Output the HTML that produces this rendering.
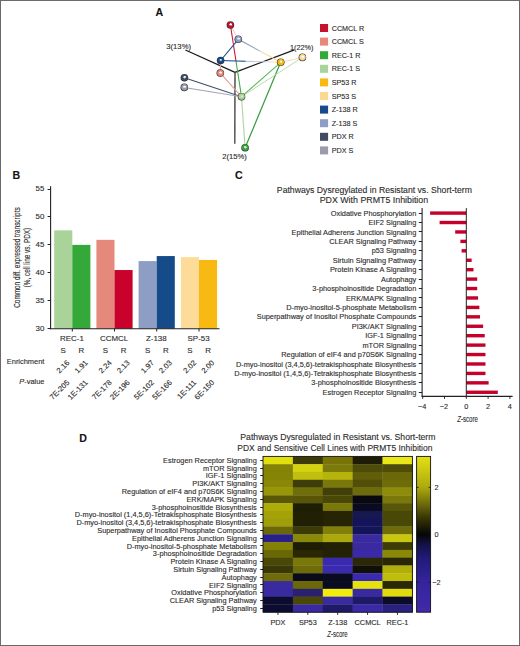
<!DOCTYPE html>
<html><head><meta charset="utf-8"><style>
html,body{margin:0;padding:0;background:#fff;}
svg{display:block;font-family:"Liberation Sans", sans-serif;}
text{stroke:#2b2b2b;stroke-width:0.12px;paint-order:stroke;}
</style></head><body>
<svg width="520" height="646" viewBox="0 0 520 646">
<rect x="0" y="0" width="520" height="646" fill="#fff"/>
<text x="155.60" y="15.80" font-size="10.6" text-anchor="start" font-weight="bold" fill="#111">A</text>
<defs><linearGradient id="lg0" gradientUnits="userSpaceOnUse" x1="230.4" y1="25.0" x2="238.3" y2="39.3"><stop offset="0" stop-color="#e9a3ad"/><stop offset="1" stop-color="#e9b3bd"/></linearGradient><linearGradient id="lg1" gradientUnits="userSpaceOnUse" x1="230.4" y1="25.0" x2="241.5" y2="96.7"><stop offset="0" stop-color="#c4122f"/><stop offset="0.48" stop-color="#c4122f"/><stop offset="0.52" stop-color="#3fa845"/><stop offset="1" stop-color="#3fa845"/></linearGradient><linearGradient id="lg2" gradientUnits="userSpaceOnUse" x1="238.3" y1="39.3" x2="220.6" y2="60.5"><stop offset="0" stop-color="#2a5a98"/><stop offset="1" stop-color="#1a4a8a"/></linearGradient><linearGradient id="lg3" gradientUnits="userSpaceOnUse" x1="238.3" y1="39.3" x2="280.7" y2="62.3"><stop offset="0" stop-color="#7d8cb0"/><stop offset="0.45" stop-color="#9eaacb"/><stop offset="0.55" stop-color="#f8dcae"/><stop offset="1" stop-color="#f8d898"/></linearGradient><linearGradient id="lg4" gradientUnits="userSpaceOnUse" x1="220.6" y1="60.5" x2="280.7" y2="62.3"><stop offset="0" stop-color="#174a8a"/><stop offset="0.4" stop-color="#2a5a98"/><stop offset="0.43" stop-color="#b8c4dc"/><stop offset="0.8" stop-color="#d8dce6"/><stop offset="0.86" stop-color="#fbe0a8"/><stop offset="1" stop-color="#fbd99a"/></linearGradient><linearGradient id="lg5" gradientUnits="userSpaceOnUse" x1="280.7" y1="62.3" x2="302.4" y2="57.4"><stop offset="0" stop-color="#fbdcaa"/><stop offset="1" stop-color="#fbe0b0"/></linearGradient><linearGradient id="lg6" gradientUnits="userSpaceOnUse" x1="280.7" y1="62.3" x2="245.1" y2="147.7"><stop offset="0" stop-color="#3c9c3e"/><stop offset="1" stop-color="#3c9c3e"/></linearGradient><linearGradient id="lg7" gradientUnits="userSpaceOnUse" x1="280.7" y1="62.3" x2="241.5" y2="96.7"><stop offset="0" stop-color="#5cb860"/><stop offset="1" stop-color="#5cb860"/></linearGradient><linearGradient id="lg8" gradientUnits="userSpaceOnUse" x1="302.4" y1="57.4" x2="241.5" y2="96.7"><stop offset="0" stop-color="#b4dba6"/><stop offset="1" stop-color="#b4dba6"/></linearGradient><linearGradient id="lg9" gradientUnits="userSpaceOnUse" x1="220.3" y1="73.1" x2="241.5" y2="96.7"><stop offset="0" stop-color="#e6988a"/><stop offset="1" stop-color="#e6a090"/></linearGradient><linearGradient id="lg10" gradientUnits="userSpaceOnUse" x1="184.4" y1="77.7" x2="241.5" y2="96.7"><stop offset="0" stop-color="#3e4b63"/><stop offset="1" stop-color="#4a566e"/></linearGradient><linearGradient id="lg11" gradientUnits="userSpaceOnUse" x1="184.3" y1="87.4" x2="241.5" y2="96.7"><stop offset="0" stop-color="#9a9cad"/><stop offset="1" stop-color="#aab0bc"/></linearGradient><linearGradient id="lg12" gradientUnits="userSpaceOnUse" x1="241.5" y1="96.7" x2="245.1" y2="147.7"><stop offset="0" stop-color="#b8d6ac"/><stop offset="1" stop-color="#b0d0a4"/></linearGradient><linearGradient id="lg13" gradientUnits="userSpaceOnUse" x1="220.3" y1="73.1" x2="220.6" y2="60.5"><stop offset="0" stop-color="#e8a090"/><stop offset="1" stop-color="#e8a090"/></linearGradient><radialGradient id="spCCMCLR" cx="0.5" cy="0.5" r="0.5" fx="0.55" fy="0.4"><stop offset="0" stop-color="#fff" stop-opacity="0.95"/><stop offset="0.2" stop-color="#fff" stop-opacity="0.45"/><stop offset="0.4" stop-color="#c4122f"/><stop offset="0.72" stop-color="#c4122f"/><stop offset="1" stop-color="#2a2a2a"/></radialGradient><radialGradient id="spCCMCLS" cx="0.5" cy="0.5" r="0.5" fx="0.55" fy="0.4"><stop offset="0" stop-color="#fff" stop-opacity="0.95"/><stop offset="0.2" stop-color="#fff" stop-opacity="0.45"/><stop offset="0.4" stop-color="#e8887a"/><stop offset="0.72" stop-color="#e8887a"/><stop offset="1" stop-color="#2a2a2a"/></radialGradient><radialGradient id="spREC1R" cx="0.5" cy="0.5" r="0.5" fx="0.55" fy="0.4"><stop offset="0" stop-color="#fff" stop-opacity="0.95"/><stop offset="0.2" stop-color="#fff" stop-opacity="0.45"/><stop offset="0.4" stop-color="#34a839"/><stop offset="0.72" stop-color="#34a839"/><stop offset="1" stop-color="#2a2a2a"/></radialGradient><radialGradient id="spREC1S" cx="0.5" cy="0.5" r="0.5" fx="0.55" fy="0.4"><stop offset="0" stop-color="#fff" stop-opacity="0.95"/><stop offset="0.2" stop-color="#fff" stop-opacity="0.45"/><stop offset="0.4" stop-color="#a9d398"/><stop offset="0.72" stop-color="#a9d398"/><stop offset="1" stop-color="#2a2a2a"/></radialGradient><radialGradient id="spSP53R" cx="0.5" cy="0.5" r="0.5" fx="0.55" fy="0.4"><stop offset="0" stop-color="#fff" stop-opacity="0.95"/><stop offset="0.2" stop-color="#fff" stop-opacity="0.45"/><stop offset="0.4" stop-color="#f7b912"/><stop offset="0.72" stop-color="#f7b912"/><stop offset="1" stop-color="#2a2a2a"/></radialGradient><radialGradient id="spSP53S" cx="0.5" cy="0.5" r="0.5" fx="0.55" fy="0.4"><stop offset="0" stop-color="#fff" stop-opacity="0.95"/><stop offset="0.2" stop-color="#fff" stop-opacity="0.45"/><stop offset="0.4" stop-color="#fcd993"/><stop offset="0.72" stop-color="#fcd993"/><stop offset="1" stop-color="#2a2a2a"/></radialGradient><radialGradient id="spZ138R" cx="0.5" cy="0.5" r="0.5" fx="0.55" fy="0.4"><stop offset="0" stop-color="#fff" stop-opacity="0.95"/><stop offset="0.2" stop-color="#fff" stop-opacity="0.45"/><stop offset="0.4" stop-color="#174a8a"/><stop offset="0.72" stop-color="#174a8a"/><stop offset="1" stop-color="#2a2a2a"/></radialGradient><radialGradient id="spZ138S" cx="0.5" cy="0.5" r="0.5" fx="0.55" fy="0.4"><stop offset="0" stop-color="#fff" stop-opacity="0.95"/><stop offset="0.2" stop-color="#fff" stop-opacity="0.45"/><stop offset="0.4" stop-color="#8d9dc8"/><stop offset="0.72" stop-color="#8d9dc8"/><stop offset="1" stop-color="#2a2a2a"/></radialGradient><radialGradient id="spPDXR" cx="0.5" cy="0.5" r="0.5" fx="0.55" fy="0.4"><stop offset="0" stop-color="#fff" stop-opacity="0.95"/><stop offset="0.2" stop-color="#fff" stop-opacity="0.45"/><stop offset="0.4" stop-color="#3e4b63"/><stop offset="0.72" stop-color="#3e4b63"/><stop offset="1" stop-color="#2a2a2a"/></radialGradient><radialGradient id="spPDXS" cx="0.5" cy="0.5" r="0.5" fx="0.55" fy="0.4"><stop offset="0" stop-color="#fff" stop-opacity="0.95"/><stop offset="0.2" stop-color="#fff" stop-opacity="0.45"/><stop offset="0.4" stop-color="#9a9cad"/><stop offset="0.72" stop-color="#9a9cad"/><stop offset="1" stop-color="#2a2a2a"/></radialGradient></defs>
<line x1="185.4" y1="50" x2="235" y2="72.3" stroke="#1a1a1a" stroke-width="1.3"/>
<line x1="235" y1="72.3" x2="294.4" y2="49.8" stroke="#1a1a1a" stroke-width="1.3"/>
<line x1="235" y1="72.3" x2="234.8" y2="143.8" stroke="#484848" stroke-width="1.4"/>
<line x1="230.4" y1="25.0" x2="238.3" y2="39.3" stroke="url(#lg0)" stroke-width="0.75"/>
<line x1="230.4" y1="25.0" x2="241.5" y2="96.7" stroke="url(#lg1)" stroke-width="1.05"/>
<line x1="238.3" y1="39.3" x2="220.6" y2="60.5" stroke="url(#lg2)" stroke-width="1.15"/>
<line x1="238.3" y1="39.3" x2="280.7" y2="62.3" stroke="url(#lg3)" stroke-width="1.15"/>
<line x1="220.6" y1="60.5" x2="280.7" y2="62.3" stroke="url(#lg4)" stroke-width="1.15"/>
<line x1="280.7" y1="62.3" x2="302.4" y2="57.4" stroke="url(#lg5)" stroke-width="1.05"/>
<line x1="280.7" y1="62.3" x2="245.1" y2="147.7" stroke="url(#lg6)" stroke-width="1.25"/>
<line x1="280.7" y1="62.3" x2="241.5" y2="96.7" stroke="url(#lg7)" stroke-width="1.05"/>
<line x1="302.4" y1="57.4" x2="241.5" y2="96.7" stroke="url(#lg8)" stroke-width="0.95"/>
<line x1="220.3" y1="73.1" x2="241.5" y2="96.7" stroke="url(#lg9)" stroke-width="1.05"/>
<line x1="184.4" y1="77.7" x2="241.5" y2="96.7" stroke="url(#lg10)" stroke-width="1.15"/>
<line x1="184.3" y1="87.4" x2="241.5" y2="96.7" stroke="url(#lg11)" stroke-width="1.05"/>
<line x1="241.5" y1="96.7" x2="245.1" y2="147.7" stroke="url(#lg12)" stroke-width="1.15"/>
<line x1="220.3" y1="73.1" x2="220.6" y2="60.5" stroke="url(#lg13)" stroke-width="1.05"/>
<circle cx="230.4" cy="25.0" r="3.8" fill="url(#spCCMCLR)"/>
<circle cx="238.3" cy="39.3" r="3.8" fill="url(#spZ138S)"/>
<circle cx="220.6" cy="60.5" r="3.8" fill="url(#spZ138R)"/>
<circle cx="220.3" cy="73.1" r="3.8" fill="url(#spCCMCLS)"/>
<circle cx="184.4" cy="77.7" r="3.8" fill="url(#spPDXR)"/>
<circle cx="184.3" cy="87.4" r="3.8" fill="url(#spPDXS)"/>
<circle cx="241.5" cy="96.7" r="3.8" fill="url(#spREC1S)"/>
<circle cx="245.1" cy="147.7" r="3.8" fill="url(#spREC1R)"/>
<circle cx="280.7" cy="62.3" r="3.8" fill="url(#spSP53R)"/>
<circle cx="302.4" cy="57.4" r="3.8" fill="url(#spSP53S)"/>
<text x="166.30" y="49.00" font-size="7.5" text-anchor="start" fill="#2b2b2b" textLength="24.70" lengthAdjust="spacingAndGlyphs">3(13%)</text>
<text x="290.00" y="50.00" font-size="7.5" text-anchor="start" fill="#2b2b2b" textLength="23.50" lengthAdjust="spacingAndGlyphs">1(22%)</text>
<text x="222.30" y="158.50" font-size="7.5" text-anchor="start" fill="#2b2b2b" textLength="24.60" lengthAdjust="spacingAndGlyphs">2(15%)</text>
<rect x="320" y="24.00" width="8.1" height="8" fill="#c4122f"/>
<text x="331.70" y="30.60" font-size="7.2" text-anchor="start" fill="#2b2b2b">CCMCL R</text>
<rect x="320" y="37.60" width="8.1" height="8" fill="#e8887a"/>
<text x="331.70" y="44.20" font-size="7.2" text-anchor="start" fill="#2b2b2b">CCMCL S</text>
<rect x="320" y="51.20" width="8.1" height="8" fill="#34a839"/>
<text x="331.70" y="57.80" font-size="7.2" text-anchor="start" fill="#2b2b2b">REC-1 R</text>
<rect x="320" y="64.80" width="8.1" height="8" fill="#a9d398"/>
<text x="331.70" y="71.40" font-size="7.2" text-anchor="start" fill="#2b2b2b">REC-1 S</text>
<rect x="320" y="78.40" width="8.1" height="8" fill="#f7b912"/>
<text x="331.70" y="85.00" font-size="7.2" text-anchor="start" fill="#2b2b2b">SP53 R</text>
<rect x="320" y="92.00" width="8.1" height="8" fill="#fcd993"/>
<text x="331.70" y="98.60" font-size="7.2" text-anchor="start" fill="#2b2b2b">SP53 S</text>
<rect x="320" y="105.60" width="8.1" height="8" fill="#174a8a"/>
<text x="331.70" y="112.20" font-size="7.2" text-anchor="start" fill="#2b2b2b">Z-138 R</text>
<rect x="320" y="119.20" width="8.1" height="8" fill="#8d9dc8"/>
<text x="331.70" y="125.80" font-size="7.2" text-anchor="start" fill="#2b2b2b">Z-138 S</text>
<rect x="320" y="132.80" width="8.1" height="8" fill="#3e4b63"/>
<text x="331.70" y="139.40" font-size="7.2" text-anchor="start" fill="#2b2b2b">PDX R</text>
<rect x="320" y="146.40" width="8.1" height="8" fill="#9a9cad"/>
<text x="331.70" y="153.00" font-size="7.2" text-anchor="start" fill="#2b2b2b">PDX S</text>
<text x="12.60" y="178.50" font-size="10.6" text-anchor="start" font-weight="bold" fill="#111">B</text>
<rect x="54.2" y="230.35" width="18.1" height="98.35" fill="#a9d398"/>
<rect x="72.3" y="244.88" width="18.1" height="83.82" fill="#34a839"/>
<rect x="96.4" y="239.85" width="18.1" height="88.85" fill="#e4897c"/>
<rect x="114.5" y="270.03" width="18.1" height="58.67" fill="#c8022b"/>
<rect x="138.6" y="261.09" width="18.1" height="67.61" fill="#8d9dc4"/>
<rect x="156.7" y="256.06" width="18.1" height="72.64" fill="#164b8a"/>
<rect x="180.9" y="257.17" width="18.1" height="71.53" fill="#fddb98"/>
<rect x="199.0" y="259.97" width="18.1" height="68.73" fill="#f8ba12"/>
<line x1="50.6" y1="186.3" x2="50.6" y2="329.2" stroke="#222" stroke-width="1.1"/>
<line x1="50.1" y1="328.7" x2="219.5" y2="328.7" stroke="#222" stroke-width="1.1"/>
<line x1="47.6" y1="328.50" x2="50.6" y2="328.50" stroke="#222" stroke-width="1"/>
<text x="44.40" y="331.00" font-size="7.9" text-anchor="end" fill="#2b2b2b">30</text>
<line x1="47.6" y1="300.50" x2="50.6" y2="300.50" stroke="#222" stroke-width="1"/>
<text x="44.40" y="303.06" font-size="7.9" text-anchor="end" fill="#2b2b2b">35</text>
<line x1="47.6" y1="272.50" x2="50.6" y2="272.50" stroke="#222" stroke-width="1"/>
<text x="44.40" y="275.12" font-size="7.9" text-anchor="end" fill="#2b2b2b">40</text>
<line x1="47.6" y1="244.50" x2="50.6" y2="244.50" stroke="#222" stroke-width="1"/>
<text x="44.40" y="247.18" font-size="7.9" text-anchor="end" fill="#2b2b2b">45</text>
<line x1="47.6" y1="216.50" x2="50.6" y2="216.50" stroke="#222" stroke-width="1"/>
<text x="44.40" y="219.24" font-size="7.9" text-anchor="end" fill="#2b2b2b">50</text>
<line x1="47.6" y1="189.50" x2="50.6" y2="189.50" stroke="#222" stroke-width="1"/>
<text x="44.40" y="191.30" font-size="7.9" text-anchor="end" fill="#2b2b2b">55</text>
<line x1="72.30" y1="328.7" x2="72.30" y2="331.5" stroke="#222" stroke-width="1"/>
<text x="71.90" y="341.40" font-size="7.95" text-anchor="middle" fill="#2b2b2b">REC-1</text>
<text x="63.25" y="352.70" font-size="7.9" text-anchor="middle" fill="#2b2b2b">S</text>
<text x="81.35" y="352.70" font-size="7.9" text-anchor="middle" fill="#2b2b2b">R</text>
<line x1="114.50" y1="328.7" x2="114.50" y2="331.5" stroke="#222" stroke-width="1"/>
<text x="114.10" y="341.40" font-size="7.95" text-anchor="middle" fill="#2b2b2b">CCMCL</text>
<text x="105.45" y="352.70" font-size="7.9" text-anchor="middle" fill="#2b2b2b">S</text>
<text x="123.55" y="352.70" font-size="7.9" text-anchor="middle" fill="#2b2b2b">R</text>
<line x1="156.70" y1="328.7" x2="156.70" y2="331.5" stroke="#222" stroke-width="1"/>
<text x="156.30" y="341.40" font-size="7.95" text-anchor="middle" fill="#2b2b2b">Z-138</text>
<text x="147.65" y="352.70" font-size="7.9" text-anchor="middle" fill="#2b2b2b">S</text>
<text x="165.75" y="352.70" font-size="7.9" text-anchor="middle" fill="#2b2b2b">R</text>
<line x1="199.00" y1="328.7" x2="199.00" y2="331.5" stroke="#222" stroke-width="1"/>
<text x="198.60" y="341.40" font-size="7.95" text-anchor="middle" fill="#2b2b2b">SP-53</text>
<text x="189.95" y="352.70" font-size="7.9" text-anchor="middle" fill="#2b2b2b">S</text>
<text x="208.05" y="352.70" font-size="7.9" text-anchor="middle" fill="#2b2b2b">R</text>
<text x="70.05" y="363.20" font-size="7.6" text-anchor="end" fill="#2b2b2b" transform="rotate(-45 70.05 363.2)">2.16</text>
<text x="70.05" y="383.00" font-size="7.6" text-anchor="end" fill="#2b2b2b" transform="rotate(-45 70.05 383.0)">7E-205</text>
<text x="88.15" y="363.20" font-size="7.6" text-anchor="end" fill="#2b2b2b" transform="rotate(-45 88.15 363.2)">1.91</text>
<text x="88.15" y="383.00" font-size="7.6" text-anchor="end" fill="#2b2b2b" transform="rotate(-45 88.15 383.0)">1E-131</text>
<text x="112.25" y="363.20" font-size="7.6" text-anchor="end" fill="#2b2b2b" transform="rotate(-45 112.25 363.2)">2.24</text>
<text x="112.25" y="383.00" font-size="7.6" text-anchor="end" fill="#2b2b2b" transform="rotate(-45 112.25 383.0)">7E-178</text>
<text x="130.35" y="363.20" font-size="7.6" text-anchor="end" fill="#2b2b2b" transform="rotate(-45 130.35 363.2)">2.13</text>
<text x="130.35" y="383.00" font-size="7.6" text-anchor="end" fill="#2b2b2b" transform="rotate(-45 130.35 383.0)">2E-196</text>
<text x="154.45" y="363.20" font-size="7.6" text-anchor="end" fill="#2b2b2b" transform="rotate(-45 154.45 363.2)">1.97</text>
<text x="154.45" y="383.00" font-size="7.6" text-anchor="end" fill="#2b2b2b" transform="rotate(-45 154.45 383.0)">5E-102</text>
<text x="172.55" y="363.20" font-size="7.6" text-anchor="end" fill="#2b2b2b" transform="rotate(-45 172.55 363.2)">2.03</text>
<text x="172.55" y="383.00" font-size="7.6" text-anchor="end" fill="#2b2b2b" transform="rotate(-45 172.55 383.0)">5E-166</text>
<text x="196.75" y="363.20" font-size="7.6" text-anchor="end" fill="#2b2b2b" transform="rotate(-45 196.75 363.2)">2.02</text>
<text x="196.75" y="383.00" font-size="7.6" text-anchor="end" fill="#2b2b2b" transform="rotate(-45 196.75 383.0)">1E-111</text>
<text x="214.85" y="363.20" font-size="7.6" text-anchor="end" fill="#2b2b2b" transform="rotate(-45 214.85 363.2)">2.00</text>
<text x="214.85" y="383.00" font-size="7.6" text-anchor="end" fill="#2b2b2b" transform="rotate(-45 214.85 383.0)">6E-150</text>
<text x="44.40" y="364.20" font-size="7.4" text-anchor="end" fill="#2b2b2b" textLength="37.60" lengthAdjust="spacingAndGlyphs">Enrichment</text>
<text x="44.4" y="384.4" font-size="7.4" text-anchor="end" fill="#2b2b2b"><tspan font-style="italic">P</tspan>-value</text>
<text transform="translate(20.2 257.6) rotate(-90)" font-size="8.2" text-anchor="middle" fill="#2b2b2b" stroke="#2b2b2b" stroke-width="0.15" textLength="100.4" lengthAdjust="spacingAndGlyphs">Common diff. expressed transcripts</text>
<text transform="translate(30.0 257.6) rotate(-90)" font-size="8.2" text-anchor="middle" fill="#2b2b2b" stroke="#2b2b2b" stroke-width="0.15" textLength="59.5" lengthAdjust="spacingAndGlyphs">(%, cell line vs. PDX)</text>
<text x="235.00" y="178.50" font-size="10.6" text-anchor="start" font-weight="bold" fill="#111">C</text>
<text x="374.40" y="192.70" font-size="9.2" text-anchor="middle" fill="#2b2b2b" textLength="195.10" lengthAdjust="spacingAndGlyphs">Pathways Dysregylated in Resistant vs. Short-term</text>
<text x="373.90" y="202.80" font-size="9.2" text-anchor="middle" fill="#2b2b2b" textLength="108.50" lengthAdjust="spacingAndGlyphs">PDX With PRMT5 Inhibition</text>
<text x="416.30" y="215.70" font-size="7.36" text-anchor="end" fill="#2b2b2b">Oxidative Phosphorylation</text>
<line x1="418.8" y1="213.50" x2="422.1" y2="213.50" stroke="#222" stroke-width="1"/>
<rect x="430.11" y="211.40" width="36.19" height="3.4" fill="#c5002a"/>
<text x="416.30" y="225.13" font-size="7.36" text-anchor="end" fill="#2b2b2b">EIF2 Signaling</text>
<line x1="418.8" y1="222.50" x2="422.1" y2="222.50" stroke="#222" stroke-width="1"/>
<rect x="439.60" y="220.83" width="26.70" height="3.4" fill="#c5002a"/>
<text x="416.30" y="234.56" font-size="7.36" text-anchor="end" fill="#2b2b2b">Epithelial Adherens Junction Signaling</text>
<line x1="418.8" y1="231.50" x2="422.1" y2="231.50" stroke="#222" stroke-width="1"/>
<rect x="455.18" y="230.26" width="11.12" height="3.4" fill="#c5002a"/>
<text x="416.30" y="243.99" font-size="7.36" text-anchor="end" fill="#2b2b2b">CLEAR Signaling Pathway</text>
<line x1="418.8" y1="241.50" x2="422.1" y2="241.50" stroke="#222" stroke-width="1"/>
<rect x="460.41" y="239.69" width="5.89" height="3.4" fill="#c5002a"/>
<text x="416.30" y="253.42" font-size="7.36" text-anchor="end" fill="#2b2b2b">p53 Signaling</text>
<line x1="418.8" y1="250.50" x2="422.1" y2="250.50" stroke="#222" stroke-width="1"/>
<rect x="461.61" y="249.12" width="4.69" height="3.4" fill="#c5002a"/>
<text x="416.30" y="262.85" font-size="7.36" text-anchor="end" fill="#2b2b2b">Sirtuin Signaling Pathway</text>
<line x1="418.8" y1="260.50" x2="422.1" y2="260.50" stroke="#222" stroke-width="1"/>
<rect x="466.30" y="258.55" width="5.34" height="3.4" fill="#c5002a"/>
<text x="416.30" y="272.28" font-size="7.36" text-anchor="end" fill="#2b2b2b">Protein Kinase A Signaling</text>
<line x1="418.8" y1="269.50" x2="422.1" y2="269.50" stroke="#222" stroke-width="1"/>
<rect x="466.30" y="267.98" width="7.19" height="3.4" fill="#c5002a"/>
<text x="416.30" y="281.71" font-size="7.36" text-anchor="end" fill="#2b2b2b">Autophagy</text>
<line x1="418.8" y1="279.50" x2="422.1" y2="279.50" stroke="#222" stroke-width="1"/>
<rect x="466.30" y="277.41" width="10.90" height="3.4" fill="#c5002a"/>
<text x="416.30" y="291.14" font-size="7.36" text-anchor="end" fill="#2b2b2b">3-phosphoinositide Degradation</text>
<line x1="418.8" y1="288.50" x2="422.1" y2="288.50" stroke="#222" stroke-width="1"/>
<rect x="466.30" y="286.84" width="10.90" height="3.4" fill="#c5002a"/>
<text x="416.30" y="300.57" font-size="7.36" text-anchor="end" fill="#2b2b2b">ERK/MAPK Signaling</text>
<line x1="418.8" y1="297.50" x2="422.1" y2="297.50" stroke="#222" stroke-width="1"/>
<rect x="466.30" y="296.27" width="11.77" height="3.4" fill="#c5002a"/>
<text x="416.30" y="310.00" font-size="7.36" text-anchor="end" fill="#2b2b2b">D-myo-inositol-5-phosphate Metabolism</text>
<line x1="418.8" y1="307.50" x2="422.1" y2="307.50" stroke="#222" stroke-width="1"/>
<rect x="466.30" y="305.70" width="13.08" height="3.4" fill="#c5002a"/>
<text x="416.30" y="319.43" font-size="7.36" text-anchor="end" fill="#2b2b2b">Superpathway of Inositol Phosphate Compounds</text>
<line x1="418.8" y1="316.50" x2="422.1" y2="316.50" stroke="#222" stroke-width="1"/>
<rect x="466.30" y="315.13" width="13.73" height="3.4" fill="#c5002a"/>
<text x="416.30" y="328.86" font-size="7.36" text-anchor="end" fill="#2b2b2b">PI3K/AKT Signaling</text>
<line x1="418.8" y1="326.50" x2="422.1" y2="326.50" stroke="#222" stroke-width="1"/>
<rect x="466.30" y="324.56" width="16.79" height="3.4" fill="#c5002a"/>
<text x="416.30" y="338.29" font-size="7.36" text-anchor="end" fill="#2b2b2b">IGF-1 Signaling</text>
<line x1="418.8" y1="335.50" x2="422.1" y2="335.50" stroke="#222" stroke-width="1"/>
<rect x="466.30" y="333.99" width="18.42" height="3.4" fill="#c5002a"/>
<text x="416.30" y="347.72" font-size="7.36" text-anchor="end" fill="#2b2b2b">mTOR Signaling</text>
<line x1="418.8" y1="345.50" x2="422.1" y2="345.50" stroke="#222" stroke-width="1"/>
<rect x="466.30" y="343.42" width="19.18" height="3.4" fill="#c5002a"/>
<text x="416.30" y="357.15" font-size="7.36" text-anchor="end" fill="#2b2b2b">Regulation of eIF4 and p70S6K Signaling</text>
<line x1="418.8" y1="354.50" x2="422.1" y2="354.50" stroke="#222" stroke-width="1"/>
<rect x="466.30" y="352.85" width="19.18" height="3.4" fill="#c5002a"/>
<text x="416.30" y="366.58" font-size="7.36" text-anchor="end" fill="#2b2b2b">D-myo-inositol (3,4,5,6)-tetrakisphosphate Biosynthesis</text>
<line x1="418.8" y1="363.50" x2="422.1" y2="363.50" stroke="#222" stroke-width="1"/>
<rect x="466.30" y="362.28" width="19.18" height="3.4" fill="#c5002a"/>
<text x="416.30" y="376.01" font-size="7.36" text-anchor="end" fill="#2b2b2b">D-myo-inositol (1,4,5,6)-Tetrakisphosphate Biosynthesis</text>
<line x1="418.8" y1="373.50" x2="422.1" y2="373.50" stroke="#222" stroke-width="1"/>
<rect x="466.30" y="371.71" width="19.18" height="3.4" fill="#c5002a"/>
<text x="416.30" y="385.44" font-size="7.36" text-anchor="end" fill="#2b2b2b">3-phosphoinositide Biosynthesis</text>
<line x1="418.8" y1="382.50" x2="422.1" y2="382.50" stroke="#222" stroke-width="1"/>
<rect x="466.30" y="381.14" width="22.34" height="3.4" fill="#c5002a"/>
<text x="416.30" y="394.87" font-size="7.36" text-anchor="end" fill="#2b2b2b">Estrogen Receptor Signaling</text>
<line x1="418.8" y1="392.50" x2="422.1" y2="392.50" stroke="#222" stroke-width="1"/>
<rect x="466.30" y="390.57" width="31.50" height="3.4" fill="#c5002a"/>
<line x1="422.1" y1="208.1" x2="422.1" y2="396.6" stroke="#222" stroke-width="1.1"/>
<line x1="421.6" y1="396.4" x2="512.6" y2="396.4" stroke="#222" stroke-width="1.1"/>
<line x1="466.3" y1="208.1" x2="466.3" y2="396.2" stroke="#222" stroke-width="1"/>
<line x1="422.70" y1="396.2" x2="422.70" y2="398.8" stroke="#222" stroke-width="1"/>
<text x="422.10" y="408.60" font-size="7.3" text-anchor="middle" fill="#2b2b2b">−4</text>
<line x1="444.50" y1="396.2" x2="444.50" y2="398.8" stroke="#222" stroke-width="1"/>
<text x="443.90" y="408.60" font-size="7.3" text-anchor="middle" fill="#2b2b2b">−2</text>
<line x1="466.30" y1="396.2" x2="466.30" y2="398.8" stroke="#222" stroke-width="1"/>
<text x="466.30" y="408.60" font-size="7.3" text-anchor="middle" fill="#2b2b2b">0</text>
<line x1="488.10" y1="396.2" x2="488.10" y2="398.8" stroke="#222" stroke-width="1"/>
<text x="488.10" y="408.60" font-size="7.3" text-anchor="middle" fill="#2b2b2b">2</text>
<line x1="509.90" y1="396.2" x2="509.90" y2="398.8" stroke="#222" stroke-width="1"/>
<text x="509.90" y="408.60" font-size="7.3" text-anchor="middle" fill="#2b2b2b">4</text>
<text x="467.5" y="421.6" font-size="9" text-anchor="middle" fill="#2b2b2b" stroke="#2b2b2b" stroke-width="0.2" textLength="20.6" lengthAdjust="spacingAndGlyphs"><tspan font-style="italic">Z</tspan>-score</text>
<text x="79.30" y="441.80" font-size="10.6" text-anchor="start" font-weight="bold" fill="#111">D</text>
<text x="337.90" y="439.90" font-size="9.0" text-anchor="middle" fill="#2b2b2b" textLength="195.10" lengthAdjust="spacingAndGlyphs">Pathways Dysregulated in Resistant vs. Short-term</text>
<text x="334.90" y="450.80" font-size="9.0" text-anchor="middle" fill="#2b2b2b" textLength="195.10" lengthAdjust="spacingAndGlyphs">PDX and Sensitive Cell Lines with PRMT5 Inhibition</text>
<text x="256.80" y="462.89" font-size="7.36" text-anchor="end" fill="#2b2b2b">Estrogen Receptor Signaling</text>
<line x1="260.2" y1="460.50" x2="263.0" y2="460.50" stroke="#222" stroke-width="1"/>
<rect x="263.00" y="456.40" width="30.18" height="8.09" fill="#e1df0e"/>
<rect x="292.88" y="456.40" width="30.18" height="8.09" fill="#3c3a08"/>
<rect x="322.76" y="456.40" width="30.18" height="8.09" fill="#787408"/>
<rect x="352.64" y="456.40" width="30.18" height="8.09" fill="#1e1c06"/>
<rect x="382.52" y="456.40" width="30.18" height="8.09" fill="#ebe616"/>
<text x="256.80" y="470.69" font-size="7.36" text-anchor="end" fill="#2b2b2b">mTOR Signaling</text>
<line x1="260.2" y1="468.50" x2="263.0" y2="468.50" stroke="#222" stroke-width="1"/>
<rect x="263.00" y="464.19" width="30.18" height="8.09" fill="#858306"/>
<rect x="292.88" y="464.19" width="30.18" height="8.09" fill="#d5d310"/>
<rect x="322.76" y="464.19" width="30.18" height="8.09" fill="#7c7a0a"/>
<rect x="352.64" y="464.19" width="30.18" height="8.09" fill="#4e4c08"/>
<rect x="382.52" y="464.19" width="30.18" height="8.09" fill="#4e4c08"/>
<text x="256.80" y="478.48" font-size="7.36" text-anchor="end" fill="#2b2b2b">IGF-1 Signaling</text>
<line x1="260.2" y1="475.50" x2="263.0" y2="475.50" stroke="#222" stroke-width="1"/>
<rect x="263.00" y="471.98" width="30.18" height="8.09" fill="#868406"/>
<rect x="292.88" y="471.98" width="30.18" height="8.09" fill="#c0be0e"/>
<rect x="322.76" y="471.98" width="30.18" height="8.09" fill="#b6b40c"/>
<rect x="352.64" y="471.98" width="30.18" height="8.09" fill="#605e08"/>
<rect x="382.52" y="471.98" width="30.18" height="8.09" fill="#6a6808"/>
<text x="256.80" y="486.26" font-size="7.36" text-anchor="end" fill="#2b2b2b">PI3K/AKT Signaling</text>
<line x1="260.2" y1="483.50" x2="263.0" y2="483.50" stroke="#222" stroke-width="1"/>
<rect x="263.00" y="479.77" width="30.18" height="8.09" fill="#8a8806"/>
<rect x="292.88" y="479.77" width="30.18" height="8.09" fill="#403e08"/>
<rect x="322.76" y="479.77" width="30.18" height="8.09" fill="#7a780a"/>
<rect x="352.64" y="479.77" width="30.18" height="8.09" fill="#525008"/>
<rect x="382.52" y="479.77" width="30.18" height="8.09" fill="#6e6c08"/>
<text x="256.80" y="494.06" font-size="7.36" text-anchor="end" fill="#2b2b2b">Regulation of eIF4 and p70S6K Signaling</text>
<line x1="260.2" y1="491.50" x2="263.0" y2="491.50" stroke="#222" stroke-width="1"/>
<rect x="263.00" y="487.56" width="30.18" height="8.09" fill="#989606"/>
<rect x="292.88" y="487.56" width="30.18" height="8.09" fill="#706e08"/>
<rect x="322.76" y="487.56" width="30.18" height="8.09" fill="#424006"/>
<rect x="352.64" y="487.56" width="30.18" height="8.09" fill="#6e6c08"/>
<rect x="382.52" y="487.56" width="30.18" height="8.09" fill="#8e8c08"/>
<text x="256.80" y="501.85" font-size="7.36" text-anchor="end" fill="#2b2b2b">ERK/MAPK Signaling</text>
<line x1="260.2" y1="499.50" x2="263.0" y2="499.50" stroke="#222" stroke-width="1"/>
<rect x="263.00" y="495.35" width="30.18" height="8.09" fill="#5a5806"/>
<rect x="292.88" y="495.35" width="30.18" height="8.09" fill="#585606"/>
<rect x="322.76" y="495.35" width="30.18" height="8.09" fill="#4a4806"/>
<rect x="352.64" y="495.35" width="30.18" height="8.09" fill="#08080e"/>
<rect x="382.52" y="495.35" width="30.18" height="8.09" fill="#7a7808"/>
<text x="256.80" y="509.64" font-size="7.36" text-anchor="end" fill="#2b2b2b">3-phosphoinositide Biosynthesis</text>
<line x1="260.2" y1="507.50" x2="263.0" y2="507.50" stroke="#222" stroke-width="1"/>
<rect x="263.00" y="503.14" width="30.18" height="8.09" fill="#aeac08"/>
<rect x="292.88" y="503.14" width="30.18" height="8.09" fill="#1e1e04"/>
<rect x="322.76" y="503.14" width="30.18" height="8.09" fill="#7a7808"/>
<rect x="352.64" y="503.14" width="30.18" height="8.09" fill="#0a0a20"/>
<rect x="382.52" y="503.14" width="30.18" height="8.09" fill="#585608"/>
<text x="256.80" y="517.43" font-size="7.36" text-anchor="end" fill="#2b2b2b">D-myo-inositol (1,4,5,6)-Tetrakisphosphate Biosynthesis</text>
<line x1="260.2" y1="514.50" x2="263.0" y2="514.50" stroke="#222" stroke-width="1"/>
<rect x="263.00" y="510.93" width="30.18" height="8.09" fill="#a4a208"/>
<rect x="292.88" y="510.93" width="30.18" height="8.09" fill="#222004"/>
<rect x="322.76" y="510.93" width="30.18" height="8.09" fill="#262404"/>
<rect x="352.64" y="510.93" width="30.18" height="8.09" fill="#181850"/>
<rect x="382.52" y="510.93" width="30.18" height="8.09" fill="#4a4806"/>
<text x="256.80" y="525.22" font-size="7.36" text-anchor="end" fill="#2b2b2b">D-myo-inositol (3,4,5,6)-tetrakisphosphate Biosynthesis</text>
<line x1="260.2" y1="522.50" x2="263.0" y2="522.50" stroke="#222" stroke-width="1"/>
<rect x="263.00" y="518.72" width="30.18" height="8.09" fill="#a09e08"/>
<rect x="292.88" y="518.72" width="30.18" height="8.09" fill="#222004"/>
<rect x="322.76" y="518.72" width="30.18" height="8.09" fill="#262404"/>
<rect x="352.64" y="518.72" width="30.18" height="8.09" fill="#14145a"/>
<rect x="382.52" y="518.72" width="30.18" height="8.09" fill="#4a4806"/>
<text x="256.80" y="533.00" font-size="7.36" text-anchor="end" fill="#2b2b2b">Superpathway of Inositol Phosphate Compounds</text>
<line x1="260.2" y1="530.50" x2="263.0" y2="530.50" stroke="#222" stroke-width="1"/>
<rect x="263.00" y="526.51" width="30.18" height="8.09" fill="#6a6808"/>
<rect x="292.88" y="526.51" width="30.18" height="8.09" fill="#3c3a06"/>
<rect x="322.76" y="526.51" width="30.18" height="8.09" fill="#828008"/>
<rect x="352.64" y="526.51" width="30.18" height="8.09" fill="#141458"/>
<rect x="382.52" y="526.51" width="30.18" height="8.09" fill="#6e6c08"/>
<text x="256.80" y="540.80" font-size="7.36" text-anchor="end" fill="#2b2b2b">Epithelial Adherens Junction Signaling</text>
<line x1="260.2" y1="538.50" x2="263.0" y2="538.50" stroke="#222" stroke-width="1"/>
<rect x="263.00" y="534.30" width="30.18" height="8.09" fill="#2a1e8a"/>
<rect x="292.88" y="534.30" width="30.18" height="8.09" fill="#8a8808"/>
<rect x="322.76" y="534.30" width="30.18" height="8.09" fill="#aaa80a"/>
<rect x="352.64" y="534.30" width="30.18" height="8.09" fill="#3a2aa0"/>
<rect x="382.52" y="534.30" width="30.18" height="8.09" fill="#c8c60e"/>
<text x="256.80" y="548.59" font-size="7.36" text-anchor="end" fill="#2b2b2b">D-myo-inositol-5-phosphate Metabolism</text>
<line x1="260.2" y1="545.50" x2="263.0" y2="545.50" stroke="#222" stroke-width="1"/>
<rect x="263.00" y="542.09" width="30.18" height="8.09" fill="#848206"/>
<rect x="292.88" y="542.09" width="30.18" height="8.09" fill="#1e1c04"/>
<rect x="322.76" y="542.09" width="30.18" height="8.09" fill="#222004"/>
<rect x="352.64" y="542.09" width="30.18" height="8.09" fill="#3a2aa0"/>
<rect x="382.52" y="542.09" width="30.18" height="8.09" fill="#3e3c06"/>
<text x="256.80" y="556.38" font-size="7.36" text-anchor="end" fill="#2b2b2b">3-phosphoinositide Degradation</text>
<line x1="260.2" y1="553.50" x2="263.0" y2="553.50" stroke="#222" stroke-width="1"/>
<rect x="263.00" y="549.88" width="30.18" height="8.09" fill="#6a6806"/>
<rect x="292.88" y="549.88" width="30.18" height="8.09" fill="#2a2804"/>
<rect x="322.76" y="549.88" width="30.18" height="8.09" fill="#242204"/>
<rect x="352.64" y="549.88" width="30.18" height="8.09" fill="#3a2aa8"/>
<rect x="382.52" y="549.88" width="30.18" height="8.09" fill="#8a8808"/>
<text x="256.80" y="564.17" font-size="7.36" text-anchor="end" fill="#2b2b2b">Protein Kinase A Signaling</text>
<line x1="260.2" y1="561.50" x2="263.0" y2="561.50" stroke="#222" stroke-width="1"/>
<rect x="263.00" y="557.67" width="30.18" height="8.09" fill="#4a4806"/>
<rect x="292.88" y="557.67" width="30.18" height="8.09" fill="#7a7808"/>
<rect x="322.76" y="557.67" width="30.18" height="8.09" fill="#3a2ab0"/>
<rect x="352.64" y="557.67" width="30.18" height="8.09" fill="#2a2806"/>
<rect x="382.52" y="557.67" width="30.18" height="8.09" fill="#2a2804"/>
<text x="256.80" y="571.96" font-size="7.36" text-anchor="end" fill="#2b2b2b">Sirtuin Signaling Pathway</text>
<line x1="260.2" y1="569.50" x2="263.0" y2="569.50" stroke="#222" stroke-width="1"/>
<rect x="263.00" y="565.46" width="30.18" height="8.09" fill="#3a3806"/>
<rect x="292.88" y="565.46" width="30.18" height="8.09" fill="#6e6c08"/>
<rect x="322.76" y="565.46" width="30.18" height="8.09" fill="#3a2ab0"/>
<rect x="352.64" y="565.46" width="30.18" height="8.09" fill="#101008"/>
<rect x="382.52" y="565.46" width="30.18" height="8.09" fill="#b0ae0a"/>
<text x="256.80" y="579.75" font-size="7.36" text-anchor="end" fill="#2b2b2b">Autophagy</text>
<line x1="260.2" y1="577.50" x2="263.0" y2="577.50" stroke="#222" stroke-width="1"/>
<rect x="263.00" y="573.25" width="30.18" height="8.09" fill="#6e6c08"/>
<rect x="292.88" y="573.25" width="30.18" height="8.09" fill="#0a0a18"/>
<rect x="322.76" y="573.25" width="30.18" height="8.09" fill="#0a0a20"/>
<rect x="352.64" y="573.25" width="30.18" height="8.09" fill="#3a2ab0"/>
<rect x="382.52" y="573.25" width="30.18" height="8.09" fill="#c0be0c"/>
<text x="256.80" y="587.54" font-size="7.36" text-anchor="end" fill="#2b2b2b">EIF2 Signaling</text>
<line x1="260.2" y1="584.50" x2="263.0" y2="584.50" stroke="#222" stroke-width="1"/>
<rect x="263.00" y="581.04" width="30.18" height="8.09" fill="#3a2aa0"/>
<rect x="292.88" y="581.04" width="30.18" height="8.09" fill="#6a6808"/>
<rect x="322.76" y="581.04" width="30.18" height="8.09" fill="#0a0a20"/>
<rect x="352.64" y="581.04" width="30.18" height="8.09" fill="#e6e210"/>
<rect x="382.52" y="581.04" width="30.18" height="8.09" fill="#2a2806"/>
<text x="256.80" y="595.33" font-size="7.36" text-anchor="end" fill="#2b2b2b">Oxidative Phosphorylation</text>
<line x1="260.2" y1="592.50" x2="263.0" y2="592.50" stroke="#222" stroke-width="1"/>
<rect x="263.00" y="588.83" width="30.18" height="8.09" fill="#3a2aa0"/>
<rect x="292.88" y="588.83" width="30.18" height="8.09" fill="#2a2070"/>
<rect x="322.76" y="588.83" width="30.18" height="8.09" fill="#f0ec10"/>
<rect x="352.64" y="588.83" width="30.18" height="8.09" fill="#3a2aa0"/>
<rect x="382.52" y="588.83" width="30.18" height="8.09" fill="#e0dc10"/>
<text x="256.80" y="603.12" font-size="7.36" text-anchor="end" fill="#2b2b2b">CLEAR Signaling Pathway</text>
<line x1="260.2" y1="600.50" x2="263.0" y2="600.50" stroke="#222" stroke-width="1"/>
<rect x="263.00" y="596.62" width="30.18" height="8.09" fill="#0c0c30"/>
<rect x="292.88" y="596.62" width="30.18" height="8.09" fill="#4a4806"/>
<rect x="322.76" y="596.62" width="30.18" height="8.09" fill="#3a2aa0"/>
<rect x="352.64" y="596.62" width="30.18" height="8.09" fill="#1e1a68"/>
<rect x="382.52" y="596.62" width="30.18" height="8.09" fill="#0c0c28"/>
<text x="256.80" y="610.91" font-size="7.36" text-anchor="end" fill="#2b2b2b">p53 Signaling</text>
<line x1="260.2" y1="608.50" x2="263.0" y2="608.50" stroke="#222" stroke-width="1"/>
<rect x="263.00" y="604.41" width="30.18" height="8.09" fill="#0c0c30"/>
<rect x="292.88" y="604.41" width="30.18" height="8.09" fill="#3a2aa0"/>
<rect x="322.76" y="604.41" width="30.18" height="8.09" fill="#1e1a68"/>
<rect x="352.64" y="604.41" width="30.18" height="8.09" fill="#3a2aa8"/>
<rect x="382.52" y="604.41" width="30.18" height="8.09" fill="#2a2080"/>
<rect x="263.0" y="456.4" width="149.40" height="155.80" fill="none" stroke="#111" stroke-width="0.9"/>
<line x1="277.94" y1="612.2" x2="277.94" y2="614.8000000000001" stroke="#222" stroke-width="1"/>
<text x="277.94" y="624.90" font-size="7.3" text-anchor="middle" fill="#2b2b2b">PDX</text>
<line x1="307.82" y1="612.2" x2="307.82" y2="614.8000000000001" stroke="#222" stroke-width="1"/>
<text x="307.82" y="624.90" font-size="7.3" text-anchor="middle" fill="#2b2b2b">SP53</text>
<line x1="337.70" y1="612.2" x2="337.70" y2="614.8000000000001" stroke="#222" stroke-width="1"/>
<text x="337.70" y="624.90" font-size="7.3" text-anchor="middle" fill="#2b2b2b">Z-138</text>
<line x1="367.58" y1="612.2" x2="367.58" y2="614.8000000000001" stroke="#222" stroke-width="1"/>
<text x="367.58" y="624.90" font-size="7.3" text-anchor="middle" fill="#2b2b2b">CCMCL</text>
<line x1="397.46" y1="612.2" x2="397.46" y2="614.8000000000001" stroke="#222" stroke-width="1"/>
<text x="397.46" y="624.90" font-size="7.3" text-anchor="middle" fill="#2b2b2b">REC-1</text>
<text x="337.5" y="637.0" font-size="8.8" text-anchor="middle" fill="#2b2b2b" stroke="#2b2b2b" stroke-width="0.2" textLength="20.4" lengthAdjust="spacingAndGlyphs"><tspan font-style="italic">Z</tspan>-score</text>
<defs><linearGradient id="cb" x1="0" y1="0" x2="0" y2="1"><stop offset="0" stop-color="#e4e014"/><stop offset="0.197" stop-color="#aeaa0e"/><stop offset="0.311" stop-color="#6a680a"/><stop offset="0.39" stop-color="#3a3806"/><stop offset="0.5" stop-color="#060606"/><stop offset="0.571" stop-color="#14124a"/><stop offset="0.652" stop-color="#221a78"/><stop offset="0.809" stop-color="#34249c"/><stop offset="1" stop-color="#4229aa"/></linearGradient></defs>
<rect x="416.6" y="456.4" width="14.0" height="155.80" fill="url(#cb)" stroke="#111" stroke-width="0.9"/>
<line x1="416.6" y1="487.4" x2="418.6" y2="487.4" stroke="#111" stroke-width="0.8"/>
<line x1="428.6" y1="487.4" x2="430.6" y2="487.4" stroke="#111" stroke-width="0.8"/>
<text x="434.50" y="490.00" font-size="7.3" text-anchor="start" fill="#2b2b2b">2</text>
<line x1="416.6" y1="534.2" x2="418.6" y2="534.2" stroke="#111" stroke-width="0.8"/>
<line x1="428.6" y1="534.2" x2="430.6" y2="534.2" stroke="#111" stroke-width="0.8"/>
<text x="434.50" y="536.80" font-size="7.3" text-anchor="start" fill="#2b2b2b">0</text>
<line x1="416.6" y1="582.1" x2="418.6" y2="582.1" stroke="#111" stroke-width="0.8"/>
<line x1="428.6" y1="582.1" x2="430.6" y2="582.1" stroke="#111" stroke-width="0.8"/>
<text x="432.20" y="584.70" font-size="7.3" text-anchor="start" fill="#2b2b2b">−2</text>
<rect x="0.5" y="0.5" width="519" height="645" fill="none" stroke="#6a6a6a" stroke-width="1"/>
</svg>
</body></html>
